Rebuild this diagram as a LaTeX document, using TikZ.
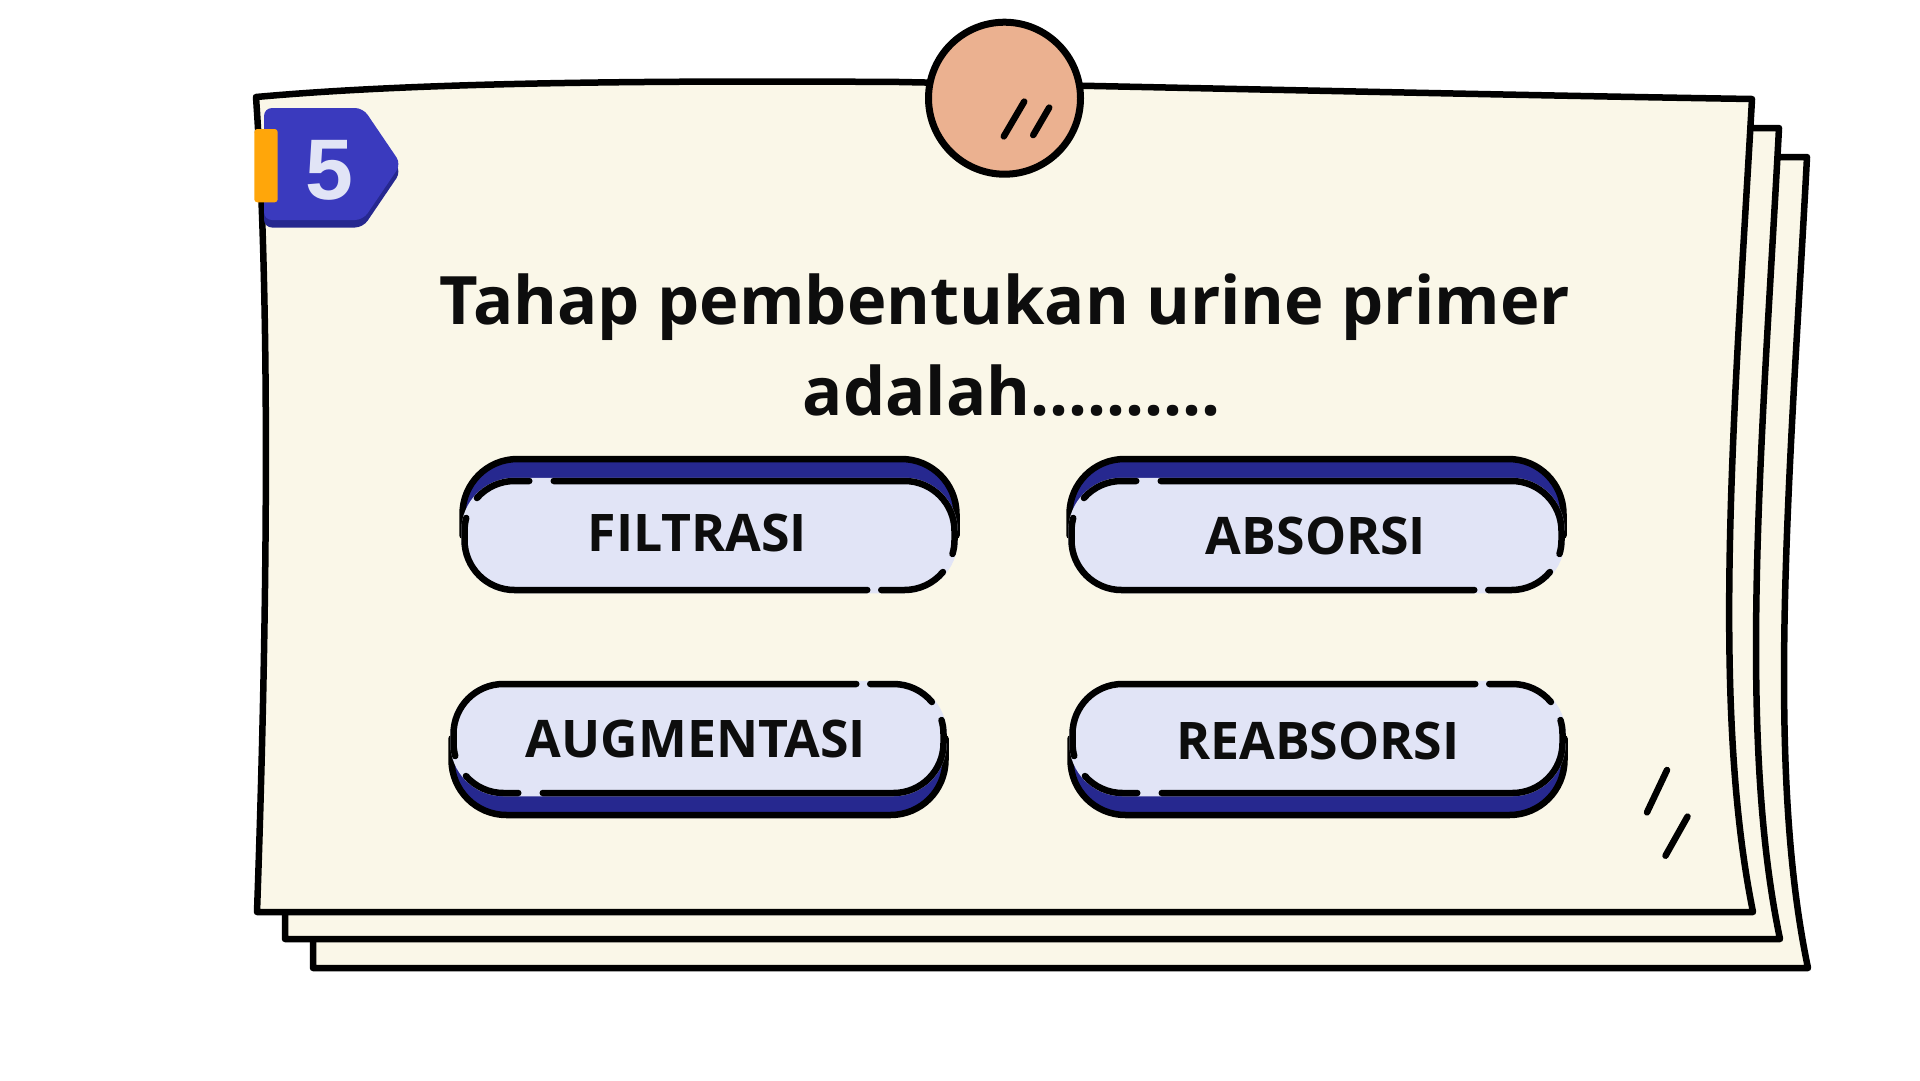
\documentclass[tikz,border=0pt]{standalone}
\usepackage{fontspec}
\setmainfont{Open Sans}
\newfontfamily\numfont{Liberation Sans}
\definecolor{paper}{RGB}{250,247,232}
\definecolor{btndark}{RGB}{38,40,143}
\definecolor{btnlight}{RGB}{225,228,246}
\definecolor{badgeblue}{RGB}{58,58,190}
\definecolor{orangebar}{RGB}{255,166,10}
\definecolor{pinpeach}{RGB}{235,177,144}
\definecolor{ink}{RGB}{13,13,13}
\tikzset{
  paperstyle/.style={fill=paper, draw=black, line width=6.5pt, line join=round},
  outline/.style={draw=black, line width=6.5pt, line cap=round},
  slashline/.style={draw=black, line width=6.5pt, line cap=round},
  btntext/.style={font=\bfseries\fontsize{51.8}{60}\selectfont, text=ink, inner sep=0pt, anchor=base},
  titletext/.style={font=\bfseries\fontsize{66.8}{93}\selectfont, text=ink, inner sep=0pt, anchor=base}
}
\newcommand\quizbtn[3]{%
\begin{scope}[shift={(#1,#2)}, yscale=#3]
  \fill[btndark, rounded corners=55pt] (-247,-76.5) rectangle (247,54.5);
  \draw[outline, rounded corners=55pt] (-247,0) -- (-247,-76.5) -- (247,-76.5) -- (247,0);
  \filldraw[fill=btnlight, draw=btnlight, line width=6.5pt, rounded corners=50pt] (-245,-54.5) rectangle (245,54.5);
  \draw[outline] (-155.75,-54.5) -- (195,-54.5) arc[start angle=270,end angle=360,radius=50] -- (245,4.5) arc[start angle=0,end angle=16.2,radius=50];
  \draw[outline] ([shift={(195,4.5)}]39.8:50) arc[start angle=39.8,end angle=90,radius=50] -- (171.75,54.5);
  \draw[outline] (157.75,54.5) -- (-195,54.5) arc[start angle=90,end angle=180,radius=50] -- (-245,-4.5) arc[start angle=180,end angle=195.1,radius=50];
  \draw[outline] ([shift={(-195,-4.5)}]221.3:50) arc[start angle=221.3,end angle=270,radius=50] -- (-180.25,-54.5);
\end{scope}}
\begin{document}
\begin{tikzpicture}[x=1pt,y=-1pt]
\useasboundingbox (0,0) rectangle (1920,1080);
\fill[white] (0,0) rectangle (1920,1080);
% stacked papers
\path[paperstyle] (313,157) -- (1807,157) .. controls (1791,460) and (1764,760) .. (1808,968) -- (313,968) -- cycle;
\path[paperstyle] (285,128) -- (1779,128) .. controls (1763,430) and (1736,730) .. (1780,939) -- (285,939) -- cycle;
\path[paperstyle] (256,97) .. controls (400,84) and (600,80) .. (900,82) .. controls (1200,88) and (1500,95) .. (1752,99) .. controls (1735,400) and (1710,700) .. (1753,912) -- (257,912) .. controls (268,600) and (270,300) .. (256,97) -- cycle;
% pin
\filldraw[fill=pinpeach, draw=black, line width=7pt] (1004.5,98.2) circle[radius=76];
\draw[slashline] (1024.2,101.6) -- (1003.8,136.4);
\draw[slashline] (1049.2,107.6) -- (1033.2,135.1);
% corner slashes
\draw[slashline] (1667,770) -- (1647,812.3);
\draw[slashline] (1687.5,816.6) -- (1665.5,855.7);
% badge
\fill[btndark, rounded corners=8pt] (264,115.5) -- (363,115.5) -- (401,171.5) -- (363,227.5) -- (264,227.5) -- cycle;
\fill[badgeblue, rounded corners=8pt] (264,108) -- (363,108) -- (401,164) -- (363,220) -- (264,220) -- cycle;
\fill[orangebar, rounded corners=3pt] (254.3,129) rectangle (277.7,202.3);
\node[font=\numfont\bfseries\fontsize{86}{86}\selectfont, text=btnlight, anchor=base, inner sep=0pt] (num) at (329,199) {5};
% question
\node[titletext] (q1) at (1005,324) {Tahap pembentukan urine primer};
\node[titletext] (q2) at (1012,415.7) {adalah..........};
% answer buttons
\quizbtn{709.5}{535.5}{1}
\quizbtn{1316.5}{535.5}{1}
\quizbtn{698.5}{738.5}{-1}
\quizbtn{1317.5}{738.5}{-1}
\node[btntext] (a1) at (697.4,551) {FILTRASI};
\node[btntext] (a2) at (1316,554.3) {ABSORSI};
\node[btntext] (a3) at (696,757.3) {AUGMENTASI};
\node[btntext] (a4) at (1317.8,759.3) {REABSORSI};
\end{tikzpicture}
\end{document}
